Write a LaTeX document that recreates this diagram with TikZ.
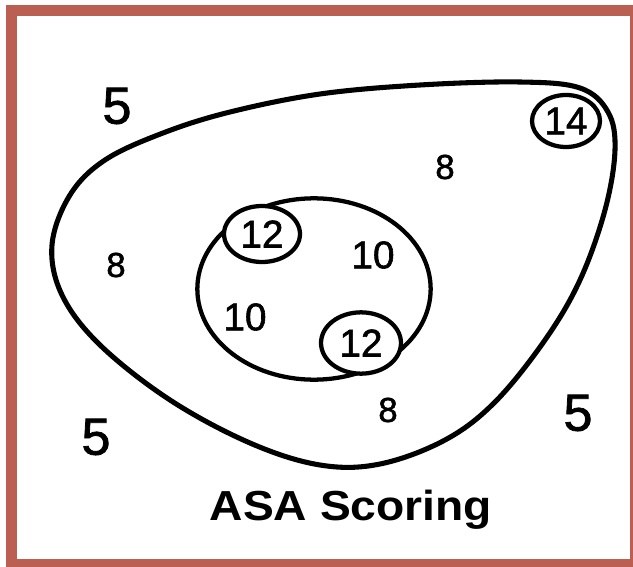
\documentclass[tikz,border=0pt]{standalone}
\usepackage{fontspec}
\setmainfont{Liberation Sans}
\newfontfamily\heavyfont[FakeBold=1.5]{Liberation Sans}
\usetikzlibrary{shapes.geometric}
\definecolor{framecol}{RGB}{188,95,83}
\tikzset{
  blob/.style={line width=3.8pt, line join=round},
  ring/.style={draw, ellipse, line width=3.2pt, inner sep=0pt},
  bigtxt/.style={font=\heavyfont\fontsize{39}{39}\selectfont},
  midtxt/.style={font=\heavyfont\fontsize{29}{29}\selectfont},
  smalltxt/.style={font=\heavyfont\fontsize{26}{26}\selectfont},
  captxt/.style={font=\bfseries\fontsize{31.5}{31.5}\selectfont, xscale=1.1, anchor=base}
}
\begin{document}
\begin{tikzpicture}[x=0.75pt,y=-0.75pt]
\useasboundingbox (0,0) rectangle (633,567);
\fill[white] (0,0) rectangle (633,567);
\fill[framecol] (6,5) rectangle (633,567);
\fill[white] (17,16) rectangle (630,559);
% outer blob
\draw[blob] plot[smooth cycle, tension=0.6] coordinates {
 (52,245) (70,195) (105,160) (163,133) (230,112) (320,94) (420,85) (520,82)
 (580,88) (608,112) (615,150) (605,210) (580,280) (545,340) (495,402)
 (445,440) (380,464) (320,465) (250,443) (170,400) (100,345) (62,295)};
% inner ellipse
\node[ring, minimum width=175pt, minimum height=136pt] (inner) at (314,289) {};
% small circles
\node[ring, fill=white, midtxt, minimum width=57pt, minimum height=42pt] (c12a) at (262,234) {12};
\node[ring, fill=white, midtxt, minimum width=60pt, minimum height=46pt] (c12b) at (361,343) {12};
\node[ring, fill=white, midtxt, minimum width=51pt, minimum height=39pt] (c14) at (566,121) {14};
% labels
\node[bigtxt] (t5a) at (117,106) {5};
\node[bigtxt] (t5b) at (96,437) {5};
\node[bigtxt] (t5c) at (578,413) {5};
\node[smalltxt] (t8a) at (116,265) {8};
\node[smalltxt] (t8b) at (445,167) {8};
\node[smalltxt] (t8c) at (388,410) {8};
\node[midtxt] (t10a) at (373,255) {10};
\node[midtxt] (t10b) at (245,317) {10};
\node[captxt] (title) at (351,520) {ASA Scoring};
\end{tikzpicture}
\end{document}
